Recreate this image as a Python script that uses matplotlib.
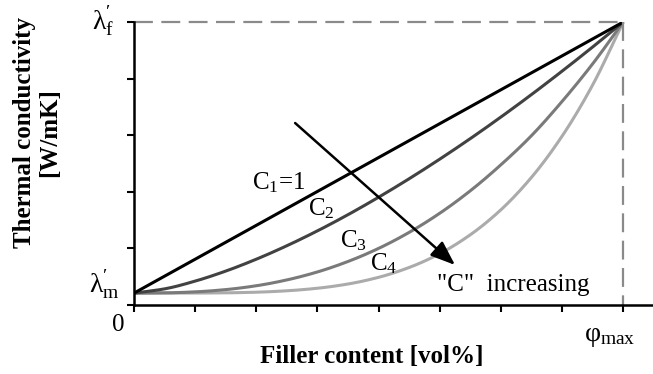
import matplotlib
matplotlib.use("Agg")
import matplotlib.pyplot as plt
import numpy as np

plt.rcParams['font.family'] = ['Liberation Serif', 'DejaVu Serif']
plt.rcParams['mathtext.fontset'] = 'custom'
plt.rcParams['mathtext.rm'] = 'Liberation Serif'
plt.rcParams['mathtext.it'] = 'Liberation Serif:italic'
plt.rcParams['mathtext.bf'] = 'Liberation Serif:bold'

# Data (x in tick units, phi_max at 8; y in tick units, lambda_f at 5)
x_pts = [0, 0.5, 1, 1.5, 2, 2.5, 3, 3.5, 4, 4.5, 5, 5.5, 6, 6.5, 7, 7.5, 8]
c1_x = [0, 8]
c1_y = [0.21, 5.0]
c2_y = [0.21, 0.285, 0.422, 0.599, 0.809, 1.047, 1.310, 1.596, 1.904, 2.231,
        2.577, 2.940, 3.321, 3.718, 4.131, 4.558, 5.0]
c3_y = [0.21, 0.214, 0.232, 0.272, 0.340, 0.443, 0.584, 0.769, 1.000, 1.283,
        1.621, 2.018, 2.477, 2.992, 3.596, 4.260, 5.0]
c4_y = [0.21, 0.21, 0.211, 0.215, 0.226, 0.251, 0.296, 0.371, 0.489, 0.663,
        0.907, 1.241, 1.682, 2.255, 2.982, 3.887, 5.0]
x_max = 8
y_f = 5.0
y_ticks = [0, 1, 2, 3, 4, 5]
x_ticks = [0, 1, 2, 3, 4, 5, 6, 7, 8]


def smooth(xs, ys, n=300):
    """Monotone cubic (Fritsch-Carlson) interpolation through the read points."""
    x = np.asarray(xs, float)
    y = np.asarray(ys, float)
    h = np.diff(x)
    d = np.diff(y) / h
    m = np.zeros_like(y)
    m[0], m[-1] = d[0], d[-1]
    for i in range(1, len(x) - 1):
        if d[i - 1] * d[i] <= 0:
            m[i] = 0
        else:
            w1 = 2 * h[i] + h[i - 1]
            w2 = h[i] + 2 * h[i - 1]
            m[i] = (w1 + w2) / (w1 / d[i - 1] + w2 / d[i])
    xn = np.linspace(x[0], x[-1], n)
    idx = np.clip(np.searchsorted(x, xn) - 1, 0, len(x) - 2)
    t = (xn - x[idx]) / h[idx]
    h00 = 2 * t**3 - 3 * t**2 + 1
    h10 = t**3 - 2 * t**2 + t
    h01 = -2 * t**3 + 3 * t**2
    h11 = t**3 - t**2
    yn = h00 * y[idx] + h10 * h[idx] * m[idx] + h01 * y[idx + 1] + h11 * h[idx] * m[idx + 1]
    return xn, yn


W, H = 653, 374
fig = plt.figure(figsize=(W / 100, H / 100), dpi=100)
ax = fig.add_axes([134 / W, (H - 305) / H, (W - 134) / W, (305 - 22) / H])
ax.set_xlim(0, (W - 134) / 61.15)
ax.set_ylim(0, 5)

lw = 2.2
for ys, col in [(c4_y, '#ababab'), (c3_y, '#7a7a7a'), (c2_y, '#424242')]:
    xs_s, ys_s = smooth(x_pts, ys)
    ax.plot(xs_s, ys_s, color=col, lw=lw, solid_capstyle='butt')
ax.plot(c1_x, c1_y, color='black', lw=lw, solid_capstyle='butt')

# dashed guide lines
ax.plot([0, x_max], [y_f, y_f], color='#8a8a8a', lw=1.6, dashes=(8.5, 3.8), clip_on=False)
ax.plot([x_max, x_max], [y_f, 0], color='#8a8a8a', lw=1.6, dashes=(8.5, 3.8), clip_on=False)

for s in ['top', 'right']:
    ax.spines[s].set_visible(False)
for s in ['left', 'bottom']:
    ax.spines[s].set_linewidth(1.8)
ax.set_xticks(x_ticks)
ax.set_yticks(y_ticks)
ax.tick_params(length=5, width=1.5, labelbottom=False, labelleft=False, direction='out')

fs = 18
ax.text(-0.33, 5.0, r"λ$^{\prime}_{\mathrm{f}}$", ha='right', va='center', fontsize=20, clip_on=False)
ax.text(-0.24, 0.36, r"λ$^{\prime}_{\mathrm{m}}$", ha='right', va='center', fontsize=20, clip_on=False)
ax.text(-0.26, -0.35, "0", ha='center', va='center', fontsize=fs, clip_on=False)
ax.text(7.78, -0.55, r"φ$_{\mathrm{max}}$", ha='center', va='center', fontsize=20, clip_on=False)

ax.text(1.93, 2.05, r"C$_{1}$=1", ha='left', va='baseline', fontsize=fs)
ax.text(2.85, 1.59, r"C$_{2}$", ha='left', va='baseline', fontsize=fs)
ax.text(3.37, 1.02, r"C$_{3}$", ha='left', va='baseline', fontsize=fs)
ax.text(3.86, 0.62, r"C$_{4}$", ha='left', va='baseline', fontsize=fs)
ax.text(4.955, 0.25, '"C"  increasing', ha='left', va='baseline', fontsize=fs)

ax.annotate('', xy=(5.25, 0.707), xytext=(2.635, 3.215),
            arrowprops=dict(arrowstyle='-|>,head_length=1.0,head_width=0.38',
                            color='black', lw=1.8, shrinkA=0, shrinkB=0,
                            mutation_scale=15))

fig.text(372 / W, (H - 356) / H, "Filler content [vol%]", ha='center', va='center',
         fontsize=fs, fontweight='bold')
fig.text(37 / W, (H - 133) / H, "Thermal conductivity\n[W/mK]", ha='center', va='center',
         rotation=90, fontsize=fs, fontweight='bold', multialignment='center', linespacing=1.1)

fig.savefig("out.png", dpi=100)
